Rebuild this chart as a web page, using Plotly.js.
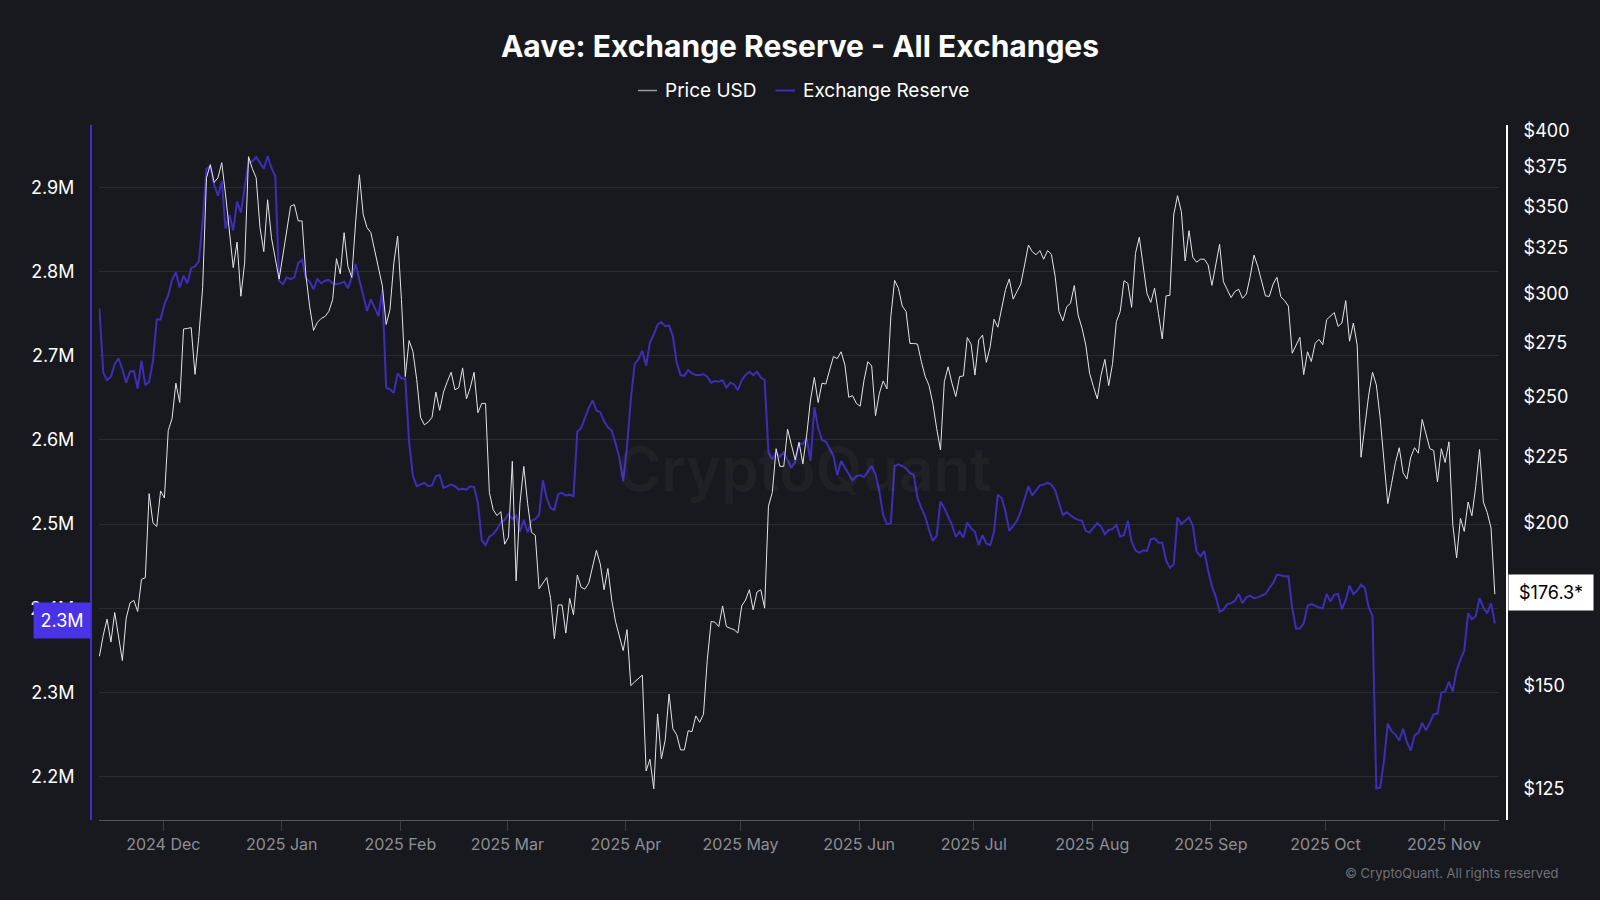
<!DOCTYPE html>
<html><head><meta charset="utf-8">
<script src="https://cdn.plot.ly/plotly-3.0.1.min.js"></script>
<style>html,body{margin:0;padding:0;background:#18191e}#c{width:1600px;height:900px}</style>
</head><body><div id="c"></div>
<script>
const priceUsd = [
158,164,168.7,162,170.7,163,156.8,169,173.6,174.4,
171,181,181.5,210.6,200,198.7,211.6,209,235.4,240.5,
256,247.4,281.7,282,282.4,260,278,303,368,376.7,
365,368,378,357,335,314,328.5,298.5,317,382,
374,368,337,323,354,331,319,307.7,321,335.7,
350,351,341,341,310,293,281,285,287,288,
290.6,296.7,319,310.5,334,314.7,308.6,339.7,370,344.8,
337,334,324,314.7,304,284,291.5,316.5,332,296.7,
259,276,270.8,257.6,241,237.8,239,241,252,244,
252,256.7,261,253,254,263,249,254,261,243,
247,247,211,204.7,202.6,204,192.6,195,223,180.5,
207,221,207,196.7,195.7,178,180,181.6,175,163,
173,173,164.6,175,170,182.4,178.5,177.9,179.8,185,
190.5,186,177.7,184.5,174.5,168,163.6,159.6,165.6,150,
151,152,152.8,129,131.7,125,142.7,131.8,136.3,147.8,
139,137.5,133.9,133.9,138.5,138.3,142.2,140.6,142.6,157,
168,167.8,166.5,172.7,166.5,166,165.6,164.6,172.7,174.5,
177.7,171.5,177,177.7,172,206,211,228,221,221,
236,229.6,223.5,230.6,222,233.6,248.5,258.6,247.4,256,
255.6,262,268.3,267.4,270.6,264.4,249.7,250.4,247,245.8,
257.4,265.9,263.9,241.7,251.4,257,253.4,287.9,307,302.7,
293.4,290.5,274.6,274.6,274.3,265.9,259,255,247,236.3,
227.5,256.7,263.5,256,250,259,259.3,277.5,274.3,259.7,
276.3,278.7,265.6,273,286.6,282.6,293,302,307.8,297,
301,305,315.5,326.8,323,321.2,323.6,318.7,323.6,321.5,
309,290.5,285.8,293,294.8,304.2,288.8,282.2,273.9,260.5,
254.5,249,259.7,267,254.9,265,285.4,290.5,306.8,305.4,
292.7,322,331.3,315.5,300,295.3,302.8,289.6,276.8,298.7,
299,344.6,356.6,346.7,317.7,335.2,319.8,317,318.7,318.7,
315.5,304.3,315.5,327.2,306.3,301.9,297.8,301,302.2,297.4,
299.7,309,321,314.6,306.3,298.7,298.4,305,308.7,298.3,
296.2,293.3,269.9,273.5,277.6,259.9,270.6,266,274.7,276.6,
274,286.4,288.2,290,283,284.7,296.2,275.7,284.7,273.7,
224.6,236.5,250.6,261,255.2,240.8,223.9,206.9,214.5,222.5,
228.4,218.5,216.1,224.6,228.4,226.2,240.1,234.3,228,227.3,
215,228,222.5,230.8,199.4,188,201.6,197,207.5,202.5,
213.3,227.7,207.5,203.7,198.2,176.3];

const exchangeReserveM = [
2.756,2.68,2.671,2.675,2.69,2.697,2.684,2.668,2.681,2.682,
2.661,2.694,2.665,2.669,2.694,2.743,2.743,2.761,2.772,2.79,
2.799,2.781,2.795,2.786,2.804,2.806,2.812,2.86,2.922,2.925,
2.903,2.89,2.907,2.851,2.867,2.849,2.883,2.87,2.9,2.929,
2.931,2.936,2.929,2.922,2.937,2.923,2.913,2.789,2.785,2.793,
2.791,2.793,2.81,2.814,2.792,2.788,2.779,2.791,2.786,2.789,
2.79,2.786,2.785,2.786,2.788,2.78,2.793,2.809,2.79,2.77,
2.753,2.767,2.757,2.747,2.778,2.662,2.66,2.656,2.679,2.673,
2.673,2.598,2.557,2.545,2.547,2.549,2.545,2.546,2.557,2.558,
2.543,2.545,2.547,2.545,2.541,2.542,2.541,2.545,2.544,2.525,
2.481,2.475,2.485,2.488,2.494,2.502,2.505,2.512,2.506,2.51,
2.491,2.505,2.49,2.504,2.506,2.511,2.552,2.531,2.519,2.517,
2.536,2.537,2.534,2.535,2.533,2.61,2.614,2.626,2.638,2.647,
2.635,2.633,2.622,2.615,2.611,2.596,2.579,2.551,2.592,2.648,
2.69,2.696,2.706,2.688,2.716,2.725,2.737,2.74,2.735,2.736,
2.723,2.692,2.677,2.676,2.683,2.679,2.677,2.677,2.678,2.675,
2.668,2.67,2.669,2.671,2.662,2.668,2.666,2.659,2.671,2.677,
2.681,2.677,2.681,2.674,2.671,2.585,2.577,2.585,2.58,2.585,
2.575,2.567,2.574,2.596,2.595,2.602,2.575,2.639,2.614,2.6,
2.598,2.59,2.581,2.558,2.575,2.567,2.56,2.552,2.557,2.558,
2.556,2.563,2.569,2.559,2.539,2.511,2.5,2.501,2.569,2.571,
2.569,2.566,2.561,2.558,2.531,2.519,2.509,2.493,2.48,2.486,
2.527,2.519,2.509,2.499,2.485,2.491,2.484,2.502,2.495,2.491,
2.475,2.487,2.477,2.475,2.491,2.535,2.531,2.515,2.492,2.498,
2.504,2.515,2.529,2.545,2.534,2.54,2.546,2.547,2.549,2.547,
2.54,2.525,2.511,2.514,2.51,2.507,2.505,2.504,2.492,2.49,
2.496,2.501,2.497,2.488,2.493,2.494,2.499,2.485,2.487,2.504,
2.479,2.469,2.466,2.469,2.468,2.482,2.483,2.478,2.478,2.457,
2.448,2.452,2.508,2.5,2.504,2.508,2.498,2.467,2.462,2.468,
2.445,2.426,2.414,2.396,2.398,2.405,2.406,2.409,2.417,2.406,
2.413,2.415,2.412,2.413,2.415,2.417,2.424,2.43,2.44,2.439,
2.438,2.438,2.4,2.376,2.376,2.382,2.403,2.405,2.403,2.401,
2.4,2.417,2.408,2.416,2.417,2.399,2.41,2.427,2.417,2.421,
2.428,2.424,2.401,2.391,2.186,2.187,2.219,2.263,2.254,2.25,
2.243,2.257,2.241,2.231,2.249,2.252,2.264,2.255,2.264,2.274,
2.275,2.3,2.301,2.313,2.301,2.326,2.339,2.35,2.394,2.387,
2.391,2.412,2.401,2.394,2.406,2.382];

const monthTicks = ["2024-12-01","2025-01-01","2025-02-01","2025-03-01","2025-04-01","2025-05-01","2025-06-01","2025-07-01","2025-08-01","2025-09-01","2025-10-01","2025-11-01"];
const monthLabels = ["2024 Dec","2025 Jan","2025 Feb","2025 Mar","2025 Apr","2025 May","2025 Jun","2025 Jul","2025 Aug","2025 Sep","2025 Oct","2025 Nov"];
const reserveTicks = [2.2,2.3,2.4,2.5,2.6,2.7,2.8,2.9];
const reserveLabels = ["2.2M","2.3M","2.4M","2.5M","2.6M","2.7M","2.8M","2.9M"];
const priceTicks = [125,150,200,225,250,275,300,325,350,375,400];
const priceLabels = ["$125","$150","$200","$225","$250","$275","$300","$325","$350","$375","$400"];
const reserveTag = "2.3M";
const priceTag = "$176.3*";

const firstDay = Date.UTC(2024,10,14,7);
const iso = t => new Date(t).toISOString().slice(0,19).replace("T"," ");
const dates = priceUsd.map((_,i)=>iso(firstDay + i*86400000));

const FONT = "Inter, 'Noto Sans', sans-serif";
const BG = "#18191e", BLUE = "#3d2eb8", TAG = "#4a33e6";
const W = 1600, H = 900, L = 91, R = 1507, T = 125, B = 820;
const px = x => (x-L)/(R-L);
const py = y => 1-(y-T)/(B-T);

const traces = [
 {name:"Exchange Reserve",x:dates,y:exchangeReserveM,type:"scatter",mode:"lines",yaxis:"y",line:{color:BLUE,width:2,shape:"linear"},hoverinfo:"skip"},
 {name:"Price USD",x:dates,y:priceUsd,type:"scatter",mode:"lines",yaxis:"y2",line:{color:"#e4e4e6",width:1,shape:"linear"},hoverinfo:"skip"}
];

const layout = {
 width:W,height:H,autosize:false,showlegend:false,
 paper_bgcolor:BG,plot_bgcolor:BG,
 margin:{l:L,r:W-R,t:T,b:H-B,pad:0},
 font:{family:FONT,color:"#ffffff"},
 title:{text:"Aave: Exchange Reserve - All Exchanges",x:0.5,xref:"container",xanchor:"center",y:1-46/H,yref:"container",yanchor:"middle",font:{family:FONT,size:30,weight:700,color:"#ffffff"}},
 xaxis:{type:"date",domain:[px(99),px(1499)],range:["2024-11-14 04:19:00","2025-11-15 09:07:00"],
  tickmode:"array",tickvals:monthTicks,ticktext:monthLabels,ticks:"outside",ticklen:10,tickcolor:"#3c3d44",tickwidth:1,
  tickfont:{family:FONT,size:16,color:"#8d8e96"},showline:true,linecolor:"#56575e",linewidth:1,showgrid:false,zeroline:false,anchor:"y"},
 yaxis:{type:"linear",range:[2.1486,2.974],anchor:"free",position:0,side:"left",tickmode:"array",tickvals:reserveTicks,ticktext:reserveLabels,
  ticks:"",ticklabelstandoff:12,tickfont:{family:FONT,size:18,color:"#ffffff"},showline:true,linecolor:"#3f2fc4",linewidth:2,
  showgrid:true,gridcolor:"#2a2b31",gridwidth:1,zeroline:false},
 yaxis2:{type:"log",range:[2.07298,2.60638],anchor:"free",position:1,side:"right",overlaying:"y",tickmode:"array",tickvals:priceTicks,ticktext:priceLabels,
  ticks:"",ticklabelstandoff:12,tickfont:{family:FONT,size:18,color:"#ffffff"},showline:true,linecolor:"#ffffff",linewidth:2,showgrid:false,zeroline:false},
 shapes:[
  {type:"line",xref:"paper",yref:"paper",x0:px(638),x1:px(657),y0:py(90.5),y1:py(90.5),line:{color:"#9a9a9f",width:1.5}},
  {type:"line",xref:"paper",yref:"paper",x0:px(775.5),x1:px(795),y0:py(90.5),y1:py(90.5),line:{color:BLUE,width:2}}
 ],
 annotations:[
  {text:"CryptoQuant",xref:"paper",yref:"paper",x:px(804),y:py(469),xanchor:"center",yanchor:"middle",showarrow:false,font:{family:FONT,size:60,weight:600,color:"rgba(255,255,255,0.035)"}},
  {text:"Price USD",xref:"paper",yref:"paper",x:px(663),y:py(90.5),xanchor:"left",yanchor:"middle",showarrow:false,font:{family:FONT,size:19,color:"#ffffff"}},
  {text:"Exchange Reserve",xref:"paper",yref:"paper",x:px(801),y:py(90.5),xanchor:"left",yanchor:"middle",showarrow:false,font:{family:FONT,size:19,color:"#ffffff"}},
  {text:"© CryptoQuant. All rights reserved",xref:"paper",yref:"paper",x:px(1560),y:py(872.5),xanchor:"right",yanchor:"middle",showarrow:false,font:{family:FONT,size:13,color:"#6f7077"}},
  {text:reserveTag,xref:"paper",yref:"y",x:px(91),y:exchangeReserveM[exchangeReserveM.length-1],yshift:3,xanchor:"right",yanchor:"middle",showarrow:false,width:56,height:35,bgcolor:TAG,borderpad:0,font:{family:FONT,size:18,color:"#ffffff"}},
  {text:priceTag,xref:"paper",yref:"y2",x:px(1507.5),y:Math.log10(priceUsd[priceUsd.length-1]),yshift:2,xanchor:"left",yanchor:"middle",showarrow:false,width:84,height:35,bgcolor:"#ffffff",borderpad:0,font:{family:FONT,size:18,color:"#000000"}}
 ]
};
Plotly.newPlot("c",traces,layout,{staticPlot:true,displayModeBar:false});
</script></body></html>
